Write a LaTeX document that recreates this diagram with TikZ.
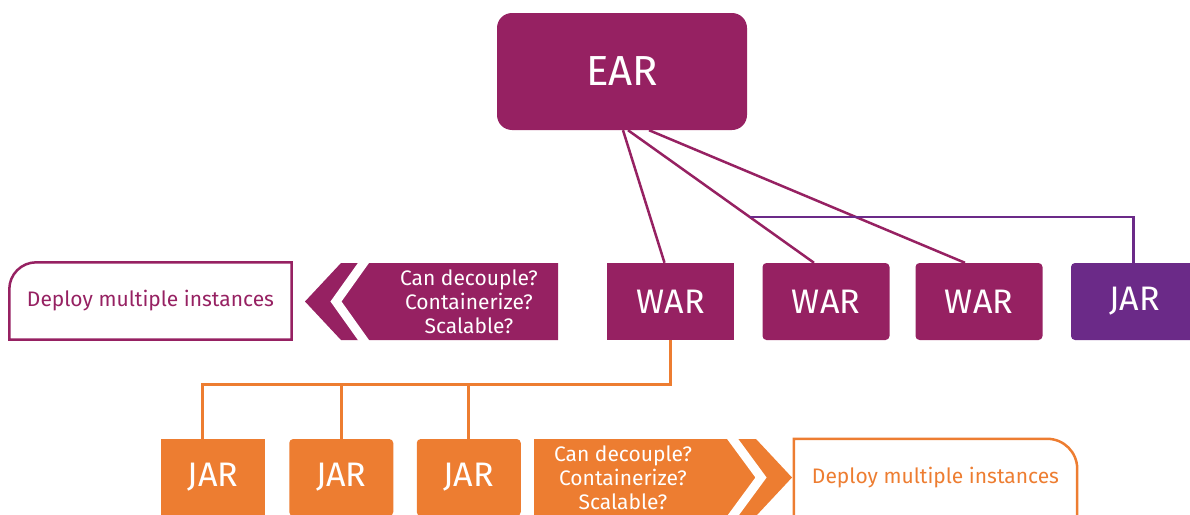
\documentclass[tikz,border=0pt]{standalone}
\usepackage{fontspec}
\setmainfont{Fira Sans}
\definecolor{mag}{RGB}{150,33,98}
\definecolor{pur}{RGB}{107,42,136}
\definecolor{org}{RGB}{237,125,49}
\begin{document}
\begin{tikzpicture}[x=1pt,y=-1pt,
  box/.style={minimum width=127pt, minimum height=77pt, inner sep=0pt, text=white, font=\fontsize{34}{40}\selectfont},
  obox/.style={box, fill=org, minimum width=104pt},
  conn/.style={line width=2.5pt, mag},
  oconn/.style={line width=3pt, org},
  qtext/.style={align=center, text=white, inner sep=0pt, font=\fontsize{21}{24}\selectfont},
  dtext/.style={inner sep=0pt, minimum width=282pt, minimum height=77pt, font=\fontsize{21}{25}\selectfont},
  dline/.style={line width=2.5pt}]
\clip (0,0) rectangle (1190,514);
% top
\node[box, fill=mag, rounded corners=15pt, minimum width=250pt, minimum height=117pt, font=\fontsize{42}{48}\selectfont] (ear) at (622,71.5) {EAR};
\node[box, fill=mag] (war1) at (670.5,301.5) {WAR};
\node[box, fill=mag, rounded corners=4pt] (war2) at (826,301.5) {WAR};
\node[box, fill=mag, rounded corners=4pt] (war3) at (979,301.5) {WAR};
\node[box, fill=pur, rounded corners=4pt] (jar) at (1134.5,301.5) {JAR};
% connectors from EAR
\draw[conn] ([xshift=1pt]ear.south) -- ([xshift=-6pt]war1.north);
\draw[conn] ([xshift=6pt]ear.south) -- ([xshift=-12pt]war2.north);
\draw[conn] ([xshift=27pt]ear.south) -- ([xshift=-14pt]war3.north);
\coordinate (pj) at (750,217);
\draw[line width=2.5pt, pur] ([xshift=-1pt]jar.north) |- (pj);
% left chevron
\fill[mag] (558,263) -- (341,263) -- (305,301.5) -- (341,340) -- (558,340) -- cycle;
\draw[white, line width=9pt, miter limit=10] (367,258) -- (336,301.5) -- (367,345);
\node[qtext] (q1) at (469,301.5) {Can decouple?\\Containerize?\\Scalable?};
% left deploy box
\node[dtext, text=mag] (d1) at (150.5,301) {Deploy multiple instances};
\draw[dline, mag] (d1.south west) -- ([yshift=-27pt]d1.north west) to[out=90,in=180] ([xshift=27pt]d1.north west) -- (d1.north east) -- (d1.south east) -- cycle;
% bottom jars
\node[obox] (jar1) at (213,477.5) {JAR};
\node[obox, rounded corners=4pt] (jar2) at (341.25,477.5) {JAR};
\node[obox, rounded corners=4pt] (jar3) at (468.75,477.5) {JAR};
\coordinate (b1) at (202,384.5);
\draw[oconn] (war1.south) |- (b1) -- (b1 |- jar1.north);
\draw[oconn] (jar2.north) -- (jar2.north |- b1);
\draw[oconn] (jar3.north) -- (jar3.north |- b1);
% right chevron
\fill[org] (534,439) -- (756,439) -- (792,477.5) -- (756,516) -- (534,516) -- cycle;
\draw[white, line width=9pt, miter limit=10] (729,434) -- (761,477.5) -- (729,521);
\node[qtext] (q2) at (623,477.5) {Can decouple?\\Containerize?\\Scalable?};
% right deploy box
\node[dtext, text=org, minimum width=283pt] (d2) at (935.5,477.5) {Deploy multiple instances};
\draw[dline, org] (d2.south west) -- (d2.north west) -- ([xshift=-30pt]d2.north east) to[out=0,in=90] ([yshift=-30pt]d2.north east) -- (d2.south east);
\end{tikzpicture}
\end{document}
